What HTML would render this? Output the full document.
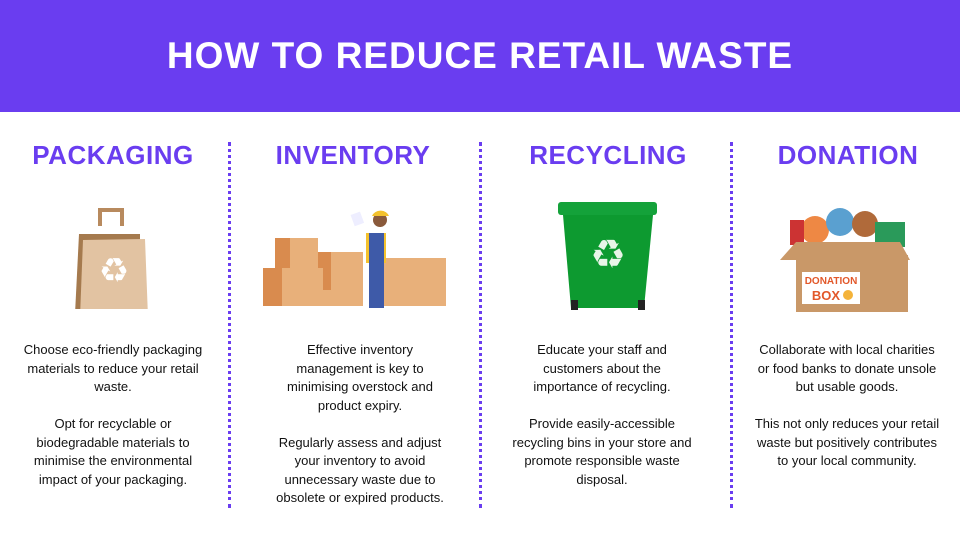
<!DOCTYPE html>
<html><head><meta charset="utf-8"><style>
body{margin:0;width:960px;height:540px;position:relative;background:#fff;font-family:"Liberation Sans",sans-serif;overflow:hidden}
.hdr{position:absolute;left:0;top:0;width:960px;height:112px;background:#6a3df0}
.title{position:absolute;top:35px;left:0;width:960px;text-align:center;color:#fff;font-weight:bold;font-size:37px;letter-spacing:1px}
.h{position:absolute;top:140px;width:240px;text-align:center;color:#6a3df0;font-weight:bold;font-size:26px;letter-spacing:0.5px}
.t{position:absolute;top:341px;width:240px;text-align:center;color:#111;font-size:13px;line-height:18.5px;white-space:nowrap}
.t p{margin:0 0 18.5px 0}
.d{position:absolute;top:142px;height:366px;border-left:3px dotted #6a3df0}
svg{position:absolute}
</style></head><body>
<div class="hdr"></div>
<div class="title">HOW TO REDUCE RETAIL WASTE</div>
<div class="h" style="left:-7px">PACKAGING</div>
<div class="h" style="left:233px">INVENTORY</div>
<div class="h" style="left:488px">RECYCLING</div>
<div class="h" style="left:728px">DONATION</div>
<div class="d" style="left:228px"></div>
<div class="d" style="left:479px"></div>
<div class="d" style="left:730px"></div>

<svg style="left:70px;top:204px" width="85" height="105" viewBox="0 0 85 105">
<path d="M30 22 V6 h22 v16" fill="none" stroke="#b88a5e" stroke-width="4"/>
<polygon points="9,30 70,30 70,112 5,110" fill="#a57a4e"/>
<polygon points="13,36 75,35 78,113 10,113" fill="#e2c3a2"/>
<text x="44" y="78" text-anchor="middle" font-size="34" fill="#fff">♻</text>
</svg>

<svg style="left:262px;top:198px" width="185" height="112">
<rect x="13" y="40" width="43" height="32" fill="#e8b07a"/><rect x="13" y="40" width="15" height="32" fill="#d98b4e"/>
<rect x="56" y="54" width="45" height="54" fill="#e8b07a"/><rect x="56" y="54" width="13" height="54" fill="#d98b4e"/>
<rect x="1" y="70" width="60" height="38" fill="#e8b07a"/><rect x="1" y="70" width="19" height="38" fill="#d98b4e"/>
<rect x="32" y="92" width="60" height="16" fill="#e8b07a"/>
<rect x="120" y="60" width="64" height="48" fill="#e8b07a"/>
<rect x="104" y="35" width="20" height="30" fill="#f4c22e"/>
<rect x="107" y="35" width="15" height="75" fill="#3e5aa8"/>
<circle cx="118" cy="22" r="7" fill="#8a5a3b"/><path d="M110 18 a9 8 0 0 1 17 0z" fill="#f4c22e"/>
<rect x="90" y="15" width="10" height="12" fill="#eef" transform="rotate(-20 95 20)"/>
</svg>

<svg style="left:558px;top:200px" width="102" height="112">
<rect x="0" y="2" width="99" height="13" rx="3" fill="#14a23a"/>
<polygon points="5,15 95,15 86,108 13,108" fill="#0d9a30"/>
<rect x="13" y="100" width="7" height="10" fill="#222"/><rect x="80" y="100" width="7" height="10" fill="#222"/>
<text x="50" y="68" text-anchor="middle" font-size="40" fill="#e8f5e8">♻</text>
</svg>

<svg style="left:780px;top:200px" width="140" height="114">
<circle cx="35" cy="30" r="14" fill="#e84"/><circle cx="60" cy="22" r="14" fill="#5aa0d0"/><circle cx="85" cy="24" r="13" fill="#b06a3a"/><rect x="95" y="22" width="30" height="25" fill="#2a9a5a"/>
<rect x="10" y="20" width="14" height="25" fill="#c33"/>
<polygon points="0,60 130,60 120,42 16,42" fill="#c99868"/>
<rect x="16" y="55" width="112" height="57" fill="#c99868"/>
<rect x="22" y="72" width="58" height="32" fill="#fff"/>
<text x="51" y="84" text-anchor="middle" font-size="10" fill="#e2582a" font-weight="bold">DONATION</text>
<text x="46" y="100" text-anchor="middle" font-size="13" fill="#e2582a" font-weight="bold">BOX</text>
<circle cx="68" cy="95" r="5" fill="#f4b33a"/>
</svg>

<div class="t" style="left:-7px"><p>Choose eco-friendly packaging<br>materials to reduce your retail<br>waste.</p><p>Opt for recyclable or<br>biodegradable materials to<br>minimise the environmental<br>impact of your packaging.</p></div>
<div class="t" style="left:240px"><p>Effective inventory<br>management is key to<br>minimising overstock and<br>product expiry.</p><p>Regularly assess and adjust<br>your inventory to avoid<br>unnecessary waste due to<br>obsolete or expired products.</p></div>
<div class="t" style="left:482px"><p>Educate your staff and<br>customers about the<br>importance of recycling.</p><p>Provide easily-accessible<br>recycling bins in your store and<br>promote responsible waste<br>disposal.</p></div>
<div class="t" style="left:727px"><p>Collaborate with local charities<br>or food banks to donate unsole<br>but usable goods.</p><p>This not only reduces your retail<br>waste but positively contributes<br>to your local community.</p></div>
</body></html>
